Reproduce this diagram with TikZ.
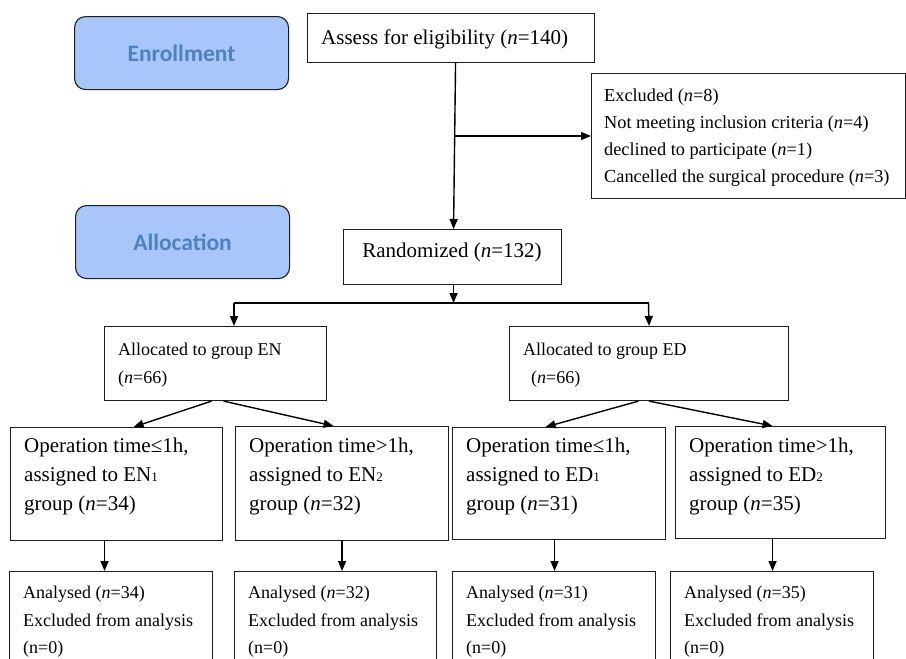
\documentclass[tikz,border=0pt]{standalone}
\usepackage{fontspec}
\setmainfont{Liberation Serif}
\newfontfamily\calib{Carlito}
\usetikzlibrary{arrows.meta}
\definecolor{phasefill}{RGB}{168,198,250}
\definecolor{phasetext}{RGB}{79,129,189}
\definecolor{edge}{RGB}{30,30,30}
\newcommand{\sbn}[1]{{\fontsize{13}{13}\selectfont #1}}
\tikzset{
  box/.style={draw=edge, line width=1.1pt, rectangle, inner sep=0pt, anchor=north west, fill=white},
  phase/.style={draw=edge, line width=1.1pt, rounded corners=11pt, fill=phasefill, inner sep=0pt, anchor=north west,
     text=phasetext, font=\calib\bfseries\fontsize{23.5}{28}\selectfont},
  big/.style={inner sep=0pt, anchor=base west, font=\fontsize{21}{25}\selectfont},
  small/.style={inner sep=0pt, anchor=base west, font=\fontsize{18}{22}\selectfont},
  smallx/.style={inner sep=0pt, anchor=base west, font=\fontsize{18.3}{22}\selectfont},
  arr/.style={line width=1.4pt, draw=black, -{Triangle[length=10pt,width=8pt]}},
  ln/.style={line width=1.4pt, draw=black}
}
\begin{document}
\begin{tikzpicture}[x=1pt,y=-1pt]
\path[use as bounding box, clip] (0,0) rectangle (906,659);
% phase labels
\node[phase, minimum width=214pt, minimum height=73pt] (enroll) at (74,16) {Enrollment};
\node[phase, minimum width=214pt, minimum height=73pt] (alloc) at (75,205) {Allocation};
% boxes
\node[box, minimum width=287pt, minimum height=49pt] (assess) at (307,13) {};
\node[box, minimum width=314pt, minimum height=125pt] (excl) at (591,73) {};
\node[box, minimum width=218pt, minimum height=55pt] (rand) at (343,229) {};
\node[box, minimum width=222pt, minimum height=74pt] (allocEN) at (104,326) {};
\node[box, minimum width=279pt, minimum height=74pt] (allocED) at (509,326) {};
\node[box, minimum width=212pt, minimum height=113pt] (op1) at (10,427) {};
\node[box, minimum width=213pt, minimum height=114pt] (op2) at (235,426) {};
\node[box, minimum width=213pt, minimum height=112pt] (op3) at (452,427) {};
\node[box, minimum width=210pt, minimum height=112pt] (op4) at (675,426) {};
\node[box, minimum width=203pt, minimum height=130pt] (an1) at (9,571) {};
\node[box, minimum width=202pt, minimum height=130pt] (an2) at (234,571) {};
\node[box, minimum width=203pt, minimum height=130pt] (an3) at (452,571) {};
\node[box, minimum width=203pt, minimum height=130pt] (an4) at (670,571) {};
% texts
\node[big] (tassess) at (321,44) {Assess for eligibility (\textit{n}=140)};
\node[smallx] (tex1) at (604,101) {Excluded (\textit{n}=8)};
\node[smallx] (tex2) at (604,128) {Not meeting inclusion criteria (\textit{n}=4)};
\node[smallx] (tex3) at (604,155) {declined to participate (\textit{n}=1)};
\node[smallx] (tex4) at (604,182) {Cancelled the surgical procedure (\textit{n}=3)};
\node[big, anchor=base] (trand) at (452,257) {Randomized (\textit{n}=132)};
\node[small] (taen1) at (118,355) {Allocated to group EN};
\node[small] (taen2) at (118,383) {(\textit{n}=66)};
\node[small] (taed1) at (523,355) {Allocated to group ED};
\node[small] (taed2) at (531,383) {(\textit{n}=66)};
\node[big] (to11) at (24,452) {Operation time≤1h,};
\node[big] (to12) at (24,481) {assigned to EN\sbn{1}};
\node[big] (to13) at (24,510) {group (\textit{n}=34)};
\node[big] (to21) at (249,452) {Operation time>1h,};
\node[big] (to22) at (249,481) {assigned to EN\sbn{2}};
\node[big] (to23) at (249,510) {group (\textit{n}=32)};
\node[big] (to31) at (466,452) {Operation time≤1h,};
\node[big] (to32) at (466,481) {assigned to ED\sbn{1}};
\node[big] (to33) at (466,510) {group (\textit{n}=31)};
\node[big] (to41) at (689,452) {Operation time>1h,};
\node[big] (to42) at (689,481) {assigned to ED\sbn{2}};
\node[big] (to43) at (689,510) {group (\textit{n}=35)};
\node[small] (ta11) at (23,598) {Analysed (\textit{n}=34)};
\node[small] (ta12) at (23,626) {Excluded from analysis};
\node[small] (ta13) at (23,653) {(n=0)};
\node[small] (ta21) at (248,598) {Analysed (\textit{n}=32)};
\node[small] (ta22) at (248,626) {Excluded from analysis};
\node[small] (ta23) at (248,653) {(n=0)};
\node[small] (ta31) at (466,598) {Analysed (\textit{n}=31)};
\node[small] (ta32) at (466,626) {Excluded from analysis};
\node[small] (ta33) at (466,653) {(n=0)};
\node[small] (ta41) at (684,598) {Analysed (\textit{n}=35)};
\node[small] (ta42) at (684,626) {Excluded from analysis};
\node[small] (ta43) at (684,653) {(n=0)};
% connectors
\coordinate (branch) at (455,136);
\draw[arr] ([xshift=4.5pt]assess.south) -- ([xshift=1pt]rand.north);
\draw[arr] (branch) -- (branch -| excl.west);
\coordinate (splitL) at (234,303);
\coordinate (splitR) at (648.5,303);
\draw[arr] ([xshift=1pt]rand.south) -- ([xshift=1pt]rand.south |- splitL);
\draw[ln] (splitL) -- (splitR);
\draw[arr] (splitL) -- (splitL |- allocEN.north);
\draw[arr] (splitR) -- (allocED.north);
\draw[arr] ([xshift=-4pt]allocEN.south) -- ([xshift=17pt]op1.north);
\draw[arr] ([xshift=8pt]allocEN.south) -- ([xshift=-8.5pt]op2.north);
\draw[arr] ([xshift=-10.5pt]allocED.south) -- ([xshift=-13.5pt]op3.north);
\draw[arr] (allocED.south) -- ([xshift=-8pt]op4.north);
\draw[arr] ([xshift=-12pt]op1.south) -- ([xshift=-12pt]op1.south |- an1.north);
\draw[arr] (op2.south) -- (op2.south |- an2.north);
\draw[arr] ([xshift=-4.5pt]op3.south) -- ([xshift=-4.5pt]op3.south |- an3.north);
\draw[arr] ([xshift=-8pt]op4.south) -- ([xshift=-8pt]op4.south |- an4.north);
\end{tikzpicture}
\end{document}
